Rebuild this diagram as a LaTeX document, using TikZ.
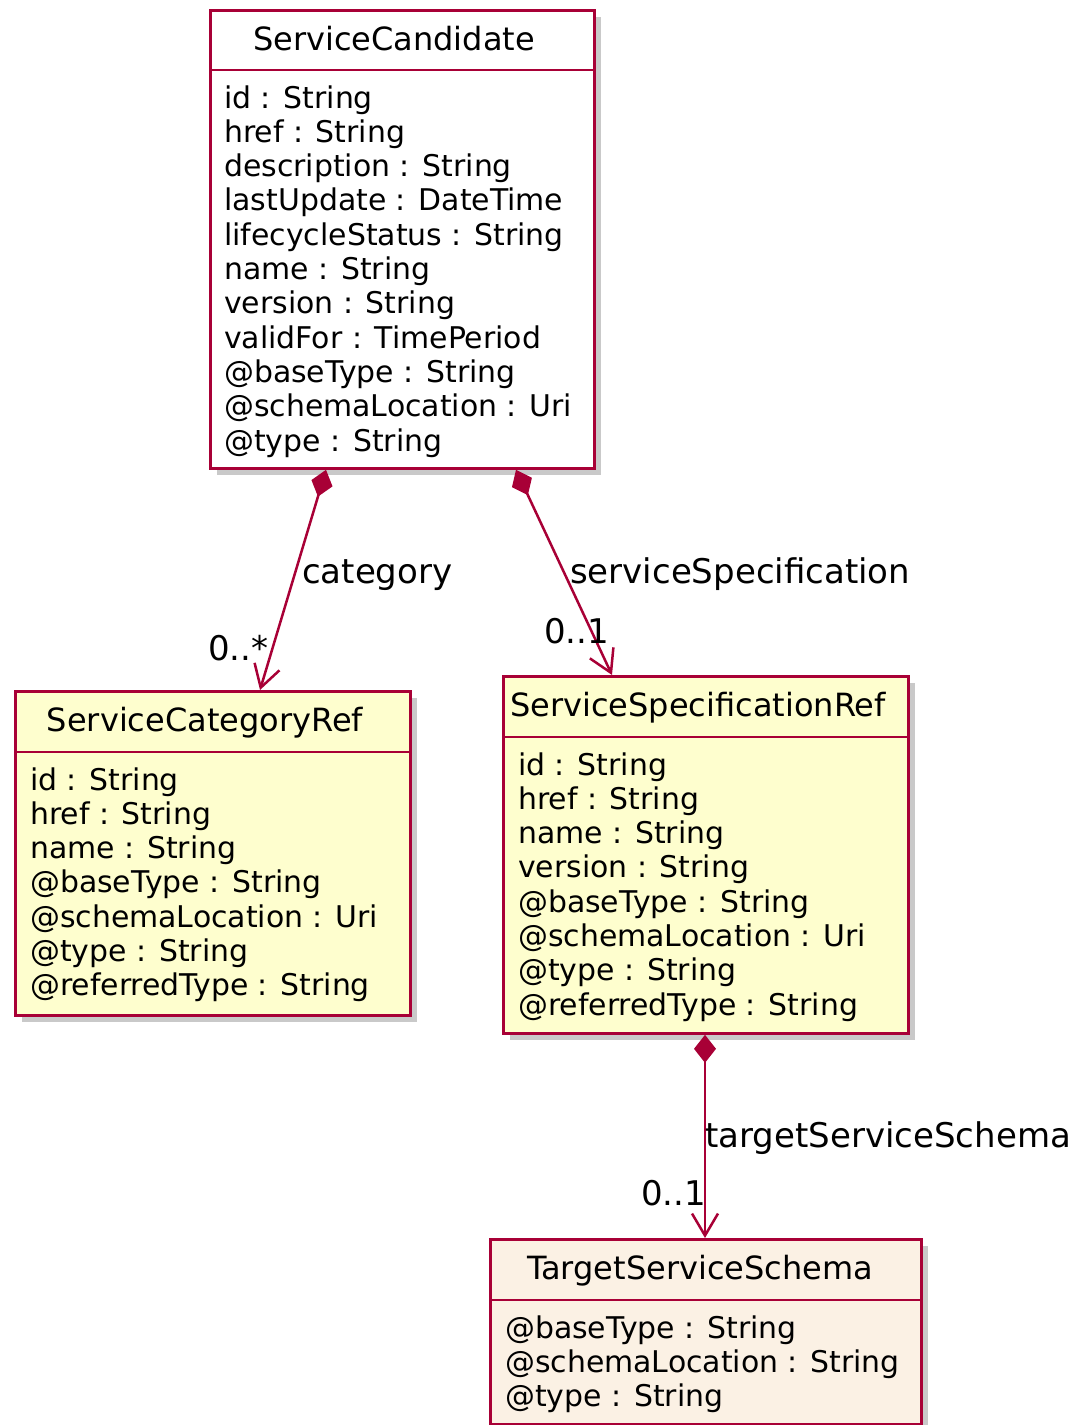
\documentclass[tikz,border=0pt]{standalone}
\usepackage{fontspec}
\setmainfont{DejaVu Sans}
\usetikzlibrary{arrows.meta,shadows}
\definecolor{umlborder}{HTML}{A80036}
\definecolor{umlyellow}{HTML}{FEFECE}
\definecolor{umlbeige}{HTML}{FBF1E4}

\begin{document}
\begin{tikzpicture}[x=1pt,y=-1pt,
  classbox/.style={draw=umlborder,line width=2.8pt,inner sep=0pt,anchor=north west,
    drop shadow={shadow xshift=7pt,shadow yshift=-7pt,opacity=0.3,fill=black!70}},
  ctitle/.style={anchor=base,inner sep=0pt,font=\fontsize{32}{38}\selectfont},
  attr/.style={anchor=base west,inner sep=0pt,font=\fontsize{29.9}{34.3}\selectfont},
  lbl/.style={anchor=base west,inner sep=0pt,font=\fontsize{34}{40}\selectfont},
  divider/.style={umlborder,line width=2.8pt},
  assoc/.style={umlborder,line width=2.5pt,
    arrows={Diamond[length=28pt,width=22pt]-Straight Barb[length=22pt,width=26pt]}}]
  \useasboundingbox (0,0) rectangle (1081,1425);

  \node[classbox,fill=white,minimum width=384pt,minimum height=458pt] (cand) at (209,9) {};
  \draw[divider] ([yshift=-61pt]cand.north west) -- ([yshift=-61pt]cand.north east);
  \node[ctitle] (candT) at (394,50) {ServiceCandidate};
  \foreach \a [count=\i from 0] in {id : String,href : String,description : String,lastUpdate : DateTime,lifecycleStatus : String,name : String,version : String,validFor : TimePeriod,@baseType : String,@schemaLocation : Uri,@type : String}
    \node[attr] (cand-\i) at (224,108+34.3*\i) {\a};

  \node[classbox,fill=umlyellow,minimum width=395pt,minimum height=324pt] (catref) at (14,690) {};
  \draw[divider] ([yshift=-62pt]catref.north west) -- ([yshift=-62pt]catref.north east);
  \node[ctitle] (catrefT) at (205,731) {ServiceCategoryRef};
  \foreach \a [count=\i from 0] in {id : String,href : String,name : String,@baseType : String,@schemaLocation : Uri,@type : String,@referredType : String}
    \node[attr] (catref-\i) at (30,790+34.3*\i) {\a};

  \node[classbox,fill=umlyellow,minimum width=405pt,minimum height=357pt] (specref) at (502,675) {};
  \draw[divider] ([yshift=-62pt]specref.north west) -- ([yshift=-62pt]specref.north east);
  \node[ctitle] (specrefT) at (698,716) {ServiceSpecificationRef};
  \foreach \a [count=\i from 0] in {id : String,href : String,name : String,version : String,@baseType : String,@schemaLocation : Uri,@type : String,@referredType : String}
    \node[attr] (specref-\i) at (518,775+34.3*\i) {\a};

  \node[classbox,fill=umlbeige,minimum width=431pt,minimum height=185pt] (target) at (489,1238) {};
  \draw[divider] ([yshift=-62pt]target.north west) -- ([yshift=-62pt]target.north east);
  \node[ctitle] (targetT) at (700,1279) {TargetServiceSchema};
  \foreach \a [count=\i from 0] in {@baseType : String,@schemaLocation : String,@type : String}
    \node[attr] (target-\i) at (505,1338+34.3*\i) {\a};

  \draw[assoc] ([xshift=117pt]cand.south west) -- ([xshift=246pt]catref.north west);
  \draw[assoc] ([xshift=307pt]cand.south west) -- ([xshift=110pt]specref.north west);
  \draw[assoc] ([xshift=203pt]specref.south west) -- ([xshift=216pt]target.north west);

  \node[lbl] (catL) at (302,583) {category};
  \node[lbl] (catM) at (208,660) {0..*};
  \node[lbl] (specL) at (570,583) {serviceSpecification};
  \node[lbl] (specM) at (544,643) {0..1};
  \node[lbl] (targetL) at (705,1147) {targetServiceSchema};
  \node[lbl] (targetM) at (641,1205) {0..1};
\end{tikzpicture}
\end{document}
